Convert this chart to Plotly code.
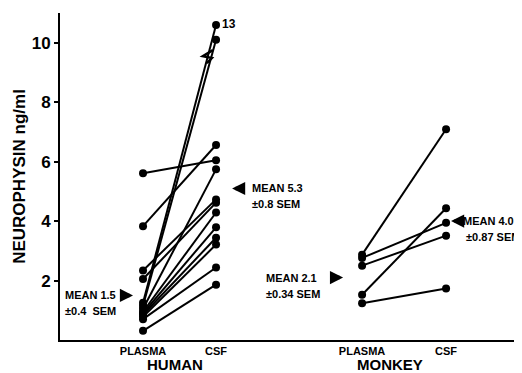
import plotly.graph_objects as go

# ---- data (ng/ml) ----
human_plasma = [5.61, 3.83, 2.34, 2.05, 1.25, 1.15, 1.05, 0.95, 0.90, 0.85, 0.78, 0.70, 0.31]
human_csf    = [6.05, 6.56, 4.73, 4.62, 10.6, 10.1, 5.74, 4.29, 3.79, 3.44, 3.21, 2.44, 1.86]
human_csf_labels = ["", "", "", "", "13", "", "", "", "", "", "", "", ""]  # plotted at axis break, true value 13
monkey_plasma = [2.87, 2.76, 2.50, 1.52, 1.24]
monkey_csf    = [7.09, 3.94, 3.51, 4.43, 1.73]

group_names = ["HUMAN", "MONKEY"]
sample_names = ["PLASMA", "CSF", "PLASMA", "CSF"]
sample_pos = [1.0, 2.0, 4.0, 5.15]

mean_values = [1.5, 5.3, 2.1, 4.0]
mean_lines = [["MEAN 1.5", "±0.4  SEM"], ["MEAN 5.3", "±0.8 SEM"],
              ["MEAN 2.1", "±0.34 SEM"], ["MEAN 4.0", " ±0.87 SEM"]]

y_ticks = [2, 4, 6, 8, 10]

# ---- layout-only parameters (pixel offsets) ----
# (sample index, arrow tip offset, arrow direction, text left offset, vertical shift)
mean_layout = [(0, -10, "right", -80, 0), (1, 16, "left", 34, -6),
               (2, -19, "right", -98, 0), (3, 5, "left", 15, 0)]

FONT = "Liberation Sans, Arial, sans-serif"
fig = go.Figure()

def add_pairs(xa, xb, a_vals, b_vals, labels=None):
    for i, (a, b) in enumerate(zip(a_vals, b_vals)):
        fig.add_trace(go.Scatter(
            x=[xa, xb], y=[a, b], mode="lines+markers",
            line=dict(color="black", width=2),
            marker=dict(color="black", size=8),
            showlegend=False, hoverinfo="skip"))
        if labels and labels[i]:
            fig.add_annotation(x=xb, y=b, text="<b>" + labels[i] + "</b>",
                               showarrow=False, xanchor="left", xshift=4, yshift=1,
                               font=dict(size=12, family=FONT, color="black"))

add_pairs(sample_pos[0], sample_pos[1], human_plasma, human_csf, human_csf_labels)
add_pairs(sample_pos[2], sample_pos[3], monkey_plasma, monkey_csf)

# axis-break zigzag on the line to the value 13
i13 = human_csf_labels.index("13")
yb = 9.55
t = (yb - human_plasma[i13]) / (human_csf[i13] - human_plasma[i13])
xb = sample_pos[0] + t * (sample_pos[1] - sample_pos[0])
fig.add_shape(type="path", xref="x", yref="y", xsizemode="pixel", ysizemode="pixel",
              xanchor=xb, yanchor=yb,
              path="M 5 6 L -5 0 L 4 -2 L -1 -7",
              line=dict(color="black", width=2.5))

# mean annotations with arrows
for val, lines, (si, tip, direction, txt, dy) in zip(mean_values, mean_lines, mean_layout):
    xp = sample_pos[si]
    ax = -8 if direction == "right" else 8
    fig.add_annotation(x=xp, y=val, ax=ax, ay=0, xshift=tip, yshift=dy,
                       text="", showarrow=True, arrowhead=2, arrowsize=0.75,
                       arrowwidth=3.5, arrowcolor="black")
    for k, line in enumerate(lines):
        fig.add_annotation(x=xp, y=val, text="<b>" + line + "</b>",
                           showarrow=False, xanchor="left", yanchor="middle",
                           xshift=txt, yshift=dy - 16 * k,
                           font=dict(size=11, family=FONT, color="black"))

# group labels
group_shift = [-5, -14]
for name, (pa, pb), sh in zip(group_names, [(sample_pos[0], sample_pos[1]), (sample_pos[2], sample_pos[3])], group_shift):
    fig.add_annotation(x=(pa + pb) / 2, y=0, yref="paper", text="<b>" + name + "</b>",
                       showarrow=False, yanchor="middle", yshift=-24, xshift=sh,
                       font=dict(size=15, family=FONT, color="black"))

# page body has an 8px margin: figure is offset by (8, 8) in the window
fig.update_layout(
    width=514, height=365,
    margin=dict(l=52, r=0, t=5, b=33),
    paper_bgcolor="white", plot_bgcolor="white",
    showlegend=False,
    xaxis=dict(range=[-0.137, 6.19], showgrid=False, zeroline=False,
               showline=True, linecolor="black", linewidth=2,
               tickvals=sample_pos, ticktext=["<b>%s</b>" % s for s in sample_names],
               ticks="",
               tickfont=dict(size=11, family=FONT, color="black")),
    yaxis=dict(range=[0, 11], showgrid=False, zeroline=False,
               showline=True, linecolor="black", linewidth=2,
               tickvals=y_ticks, ticktext=["<b>%d</b>" % v for v in y_ticks],
               ticks="outside", ticklen=4, tickwidth=2, tickcolor="black",
               tickfont=dict(size=17, family=FONT, color="black"),
               title=dict(text="<b>NEUROPHYSIN ng/ml</b>", standoff=2,
                          font=dict(size=17, family=FONT, color="black"))),
)

fig.write_html("out.html")
